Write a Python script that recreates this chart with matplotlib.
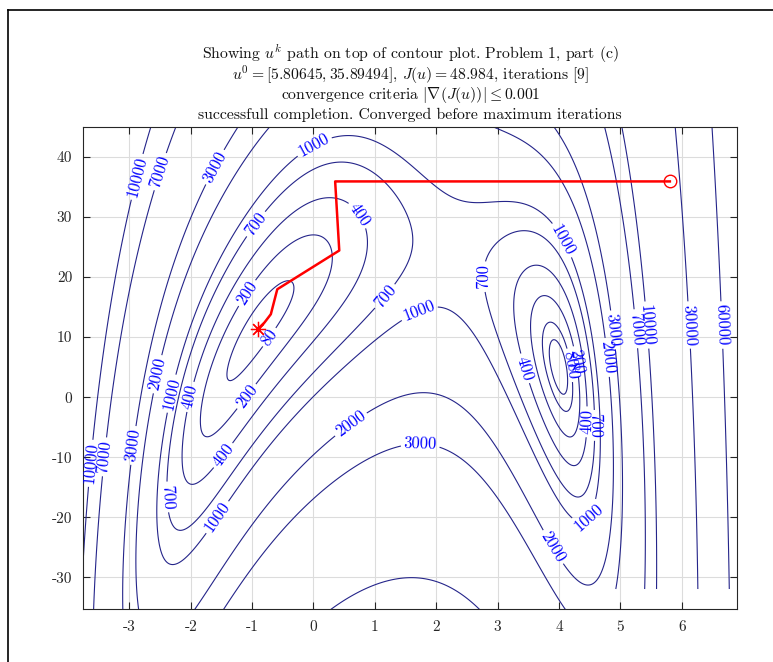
import numpy as np
import matplotlib
matplotlib.use("Agg")
import matplotlib.pyplot as plt
from matplotlib.lines import Line2D

plt.rcParams['font.family'] = 'serif'
plt.rcParams['font.serif'] = ['cmr10', 'DejaVu Serif']
plt.rcParams['mathtext.fontset'] = 'cm'
plt.rcParams['axes.unicode_minus'] = False
plt.rcParams['axes.formatter.use_mathtext'] = False

# ---- data ----
contour_levels = [30, 80, 200, 400, 700, 1000, 2000, 3000, 7000, 10000, 30000, 60000]
path_u1 = [5.80645, 0.353, 0.42, -0.59, -0.695, -0.80, -0.88, -0.895, -0.8968, -0.8968]
path_u2 = [35.89494, 35.89494, 24.4, 17.95, 13.8, 12.4, 11.6, 11.43, 11.413, 11.4128]
x_ticks = [-3, -2, -1, 0, 1, 2, 3, 4, 5, 6]
y_ticks = [-30, -20, -10, 0, 10, 20, 30, 40]
x_range = [-3.75, 6.905]
y_range = [-35.3, 44.9]

title_lines = ["Showing $u^k$ path on top of contour plot. Problem 1, part (c)",
               "$u^0=[5.80645, 35.89494]$, $J(u)=48.984$, iterations [9]",
               "convergence criteria $|\\nabla(J(u))|\\leq 0.001$",
               "successfull completion. Converged before maximum iterations"]

# label anchor positions (layout)
label_pos = [(-2.89, 36.7), (-2.52, 37.6), (-1.63, 38.4), (0.0, 42), (-0.95, 28.9),
             (0.73, 30.3), (-1.08, 17.3), (-0.73, 10.05), (4.07, 26.2), (2.74, 20.05),
             (1.14, 17.0), (1.71, 14.5), (5.43, 12), (5.27, 11.4), (4.89, 11.2), (4.78, 6.6),
             (6.11, 12), (6.65, 12), (3.45, 4.8), (4.15, 6.2), (4.26, 5.9), (4.2, 5.0),
             (4.43, -4.1), (4.57, -4.7),
             (-2.58, 3.9), (-2.32, 0.6), (-2.01, 0.05), (-1.08, 0.05),
             (-3.64, -11), (-3.39, -9.95), (-2.96, -8), (-1.47, -9.7), (-2.36, -16.6),
             (-1.57, -19.95), (0.6, -4.4), (1.74, -8), (4.37, -19.1), (3.91, -24.9)]

# objective surface J(u)
u1 = np.linspace(x_range[0], x_range[1], 500)
u2 = np.linspace(y_range[0], y_range[1], 500)
U1, U2 = np.meshgrid(u1, u2)
r1 = -13 + U2 + ((5 - U1) * U1 - 2) * U1
r2 = -29 + U2 + ((U1 + 1) * U1 - 14) * U1
J = r1 ** 2 + r2 ** 2
J = np.where((U1 > 4.78) & (U2 < -32.0), np.nan, J)

fig = plt.figure(figsize=(7.73, 6.62), dpi=100)
ax = fig.add_axes([0.1078, 0.0796, 0.846, 0.7281])

cs = ax.contour(U1, U2, J, levels=contour_levels, colors='#25258a', linewidths=0.8)
ax.clabel(cs, inline=True, fontsize=12, colors='#0000ff', manual=label_pos, inline_spacing=3)

ax.plot(path_u1, path_u2, color='red', lw=1.8, zorder=5)
ax.plot(path_u1[0], path_u2[0], 'o', mfc='none', mec='red', ms=9, mew=1.0, zorder=6)
ax.plot(path_u1[-1], path_u2[-1], marker=(8, 2, 0), color='red', ms=11, mew=0.9,
        ls='none', zorder=6)

ax.set_xlim(x_range)
ax.set_ylim(y_range)
ax.set_xticks(x_ticks)
ax.set_yticks(y_ticks)
ax.grid(True, color='#dcdcdc', lw=0.8)
ax.set_axisbelow(True)
ax.tick_params(direction='in', top=True, right=True, length=5, labelsize=11,
               colors='#262626', pad=8)
for s in ax.spines.values():
    s.set_color('#262626')
    s.set_linewidth(0.8)

x_center = 0.1078 + 0.846 / 2
baselines = [59.0, 79.5, 99.3, 118.7]
for line, b in zip(title_lines, baselines):
    fig.text(x_center, 1 - b / 662, line, ha='center', va='baseline', fontsize=11.3,
             color='#111111')

# figure frame (left and top edges)
fig.add_artist(Line2D([8/773, 8/773], [0, 1 - 10/662], color='black', lw=1.2,
                      transform=fig.transFigure))
fig.add_artist(Line2D([8/773, 1], [1 - 10/662, 1 - 10/662], color='black', lw=1.2,
                      transform=fig.transFigure))

fig.savefig('out.png', dpi=100)
